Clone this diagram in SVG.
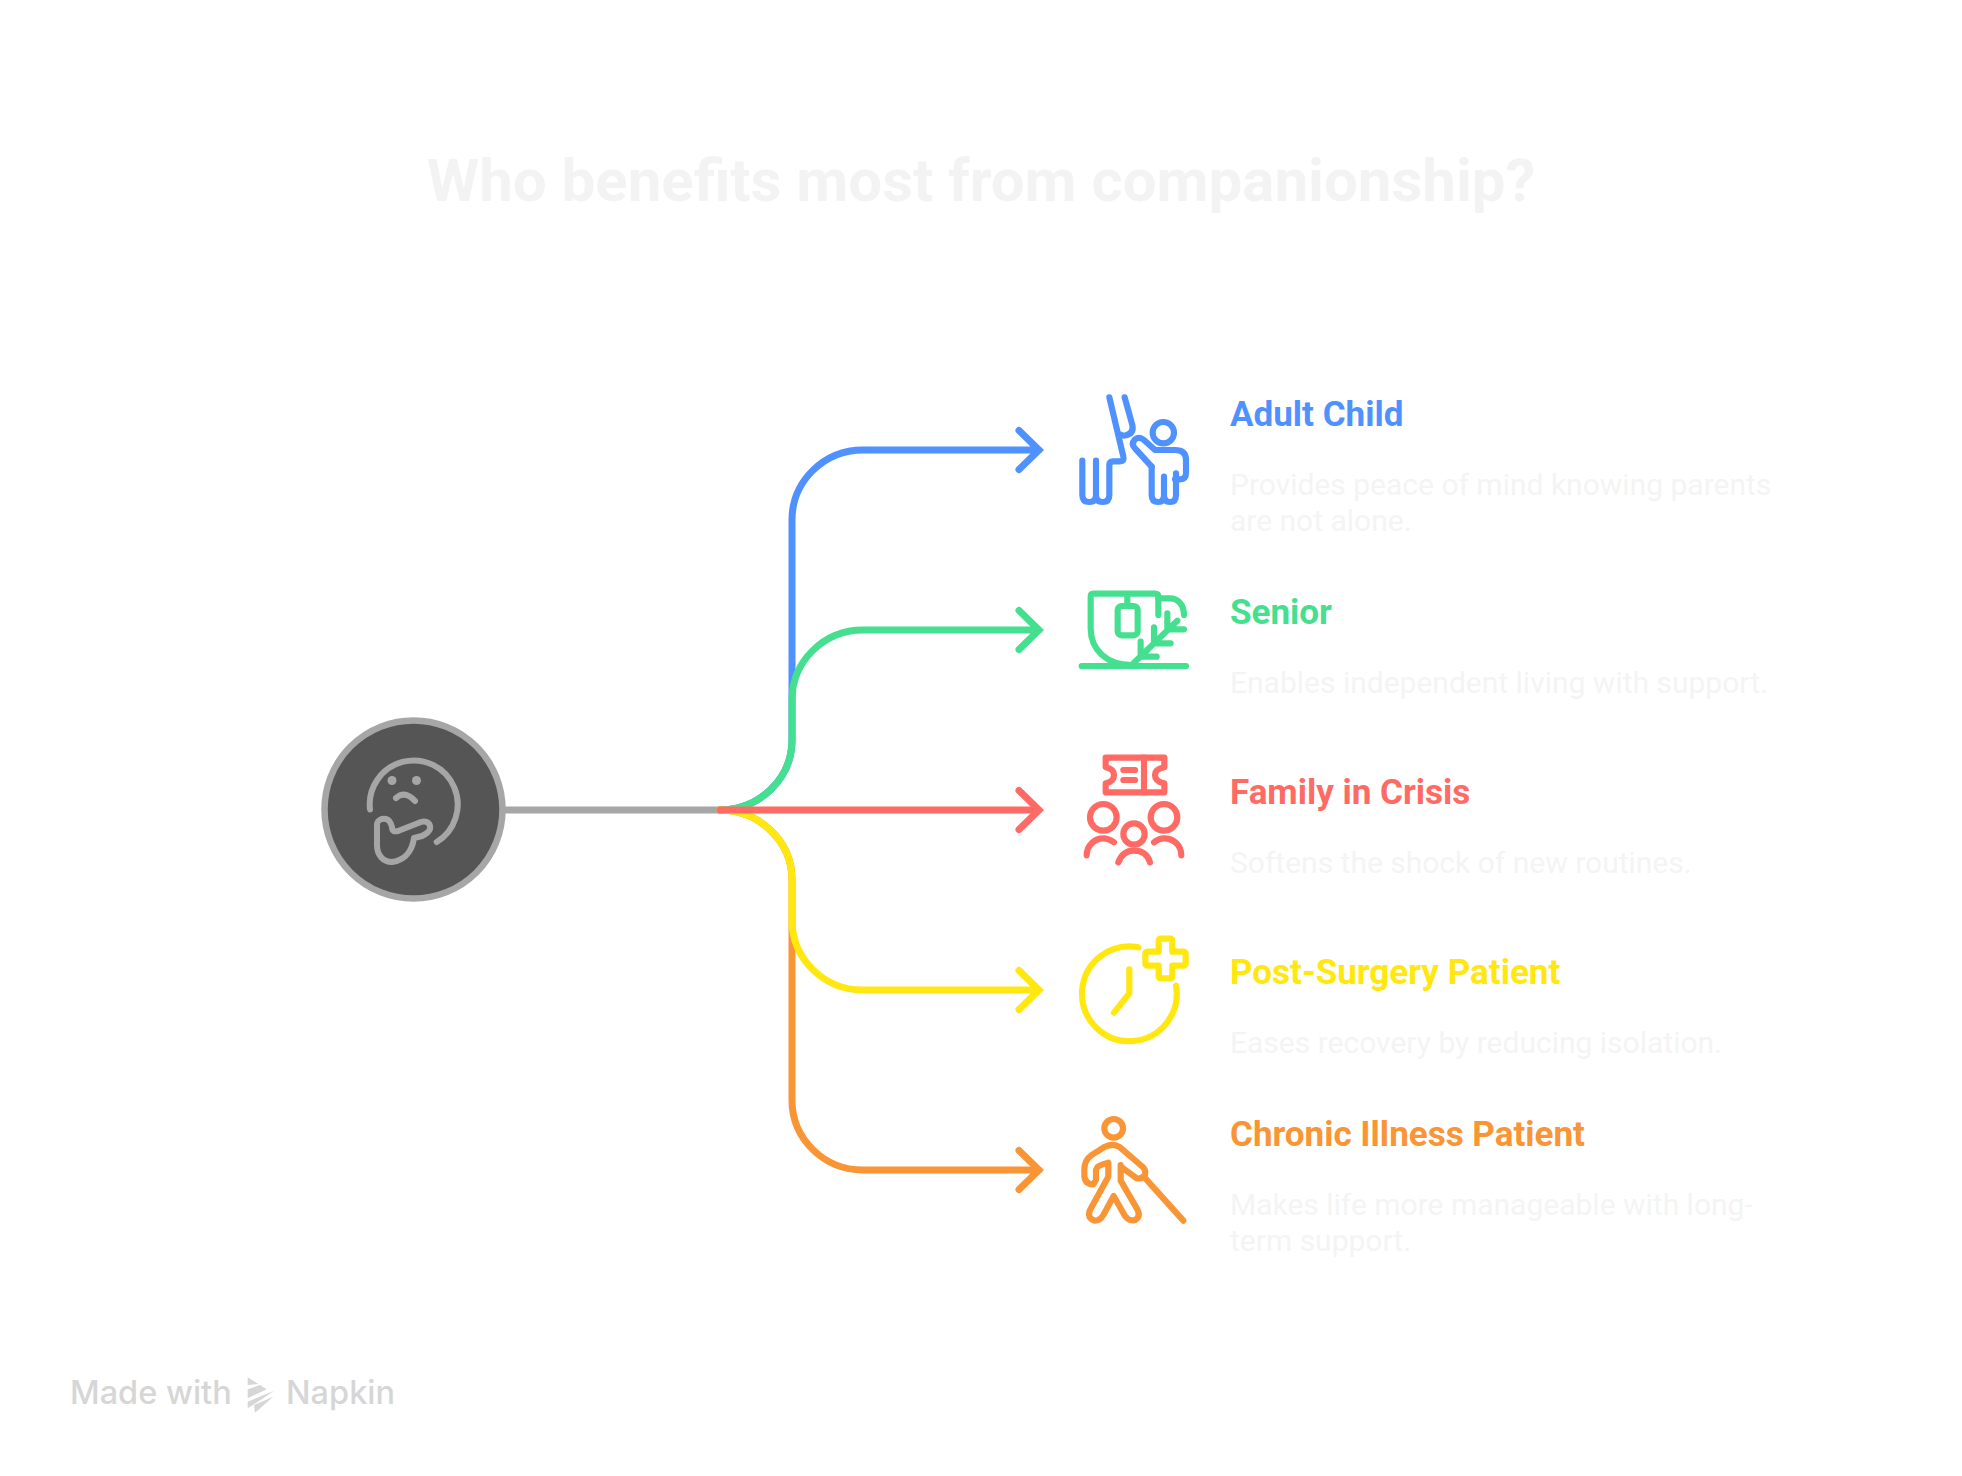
<svg xmlns="http://www.w3.org/2000/svg" width="1962" height="1476" viewBox="0 0 1962 1476">
<style>
text{font-family:Roboto,"Liberation Sans",sans-serif}
.title{font-size:60px;font-weight:700;fill:#f3f3f3;text-anchor:middle}
.h{font-size:35px;font-weight:700}
.d{font-size:30px;font-weight:400;fill:#f4f4f4}
.c,.i{fill:none;stroke-linecap:round}
.i{stroke-linejoin:round;stroke-width:18.500}
.c{stroke-linejoin:miter;stroke-width:7}
.z{transform:scale(.33333)}
.w{font-family:Inter,Roboto,sans-serif;font-size:32.500px;font-weight:500}
.blue{stroke:#4f91ff}.green{stroke:#44e090}.red{stroke:#ff6a64}.yellow{stroke:#ffe70f}.orange{stroke:#f99535}
</style>
<rect width="1962" height="1476" fill="#fff"/>
<text id="title" class="title" x="981" y="201">Who benefits most from companionship?</text>
<g id="connectors" class="c">
<path d="M505 810H720" stroke="#a6a6a6"/>
<path class="blue" d="M720 810C759 810 792 779 792 740V520C792 481 824 450 863 450H1039M1019 430.500L1039 450L1019 469.500"/>
<path class="orange" d="M720 810C759 810 792 841 792 880V1100C792 1139 824 1170 863 1170H1039M1019 1150.500L1039 1170L1019 1189.500"/>
<path class="green" d="M720 810C759 810 792 779 792 740V700C792 661 824 630 863 630H1039M1019 610.500L1039 630L1019 649.500"/>
<path class="yellow" d="M720 810C759 810 792 841 792 880V920C792 959 824 990 863 990H1039M1019 970.500L1039 990L1019 1009.500"/>
<path class="red" d="M720 810H1039M1019 790.500L1039 810L1019 829.500"/>
</g>
<g id="hub">
<circle cx="413.500" cy="809.500" r="89" fill="#555" stroke="#a6a6a6" stroke-width="6.500"/>
<g fill="none" stroke="#a6a6a6" stroke-width="6" stroke-linecap="round" stroke-linejoin="round">
<path d="M370 809.500A44 44 0 1 1 436.700 842"/>
<path d="M396 798Q405 790 415 801"/>
<path d="M377 825C377 820 382 818 386 819C390 820 391 823 392 827C392 831 394 832 398 831L421 822C427 820 431 824 430 829C429 832 426 834 422 836L414 838C413 845 409 860 392 862C383 862 377 855 377 845Z"/>
</g>
<circle cx="392" cy="780.500" r="4.500" fill="#a6a6a6"/><circle cx="416.500" cy="780.500" r="4.500" fill="#a6a6a6"/>
</g>
<g id="adult-child">
<g transform="translate(1040 370)"><g class="i blue z">
<path d="M127 272V375Q127 396 148 396Q168 396 168 375V272M168 375Q168 396 188 396Q208 396 208 375V285Q208 274 220 274H240Q254 274 250 260L208 82"/>
<path d="M254 82L277 165Q282 190 258 196Q248 198 243 194"/>
<circle cx="370" cy="188" r="32"/>
<path d="M335 290L285 235Q272 222 285 208Q298 198 312 210L345 240H405Q438 240 438 270V310Q438 328 420 328H405"/>
<path d="M335 290V375Q335 396 355 396Q372 396 372 375V320M372 375Q372 396 390 396Q408 396 408 375V310"/>
</g></g>
<text class="h" x="1230" y="426" fill="#4f91ff">Adult Child</text>
<text class="d" x="1230" y="495">Provides peace of mind knowing parents</text>
<text class="d" x="1230" y="531">are not alone.</text>
</g>
<g id="senior">
<g transform="translate(1040 370)"><g class="i green z">
<path d="M355 735V680Q355 671 345 671H160Q152 671 152 680V775C152 840 200 885 275 885"/>
<path d="M125 888H438"/>
<path d="M355 685H390C415 685 432 705 432 735"/>
<path d="M262 675V708"/>
<rect x="233" y="708" width="60" height="88" rx="12"/>
<path d="M275 885L412 752M382 730V781M342 772V820M302 815V860M385 778H432M342 820H392M301 860H350"/>
</g></g>
<text class="h" x="1230" y="624" fill="#44e090">Senior</text>
<text class="d" x="1230" y="693">Enables independent living with support.</text>
</g>
<g id="family-in-crisis">
<g transform="translate(1040 730)"><g class="i red z">
<path d="M197 83H373V112Q345 117 345 135Q345 155 373 160V187H197V160Q222 155 222 135Q222 117 197 112Z"/>
<path d="M312 83V187M250 120H285M250 150H285"/>
<circle cx="190" cy="262" r="40"/><circle cx="372" cy="262" r="40"/><circle cx="282" cy="312" r="32"/>
<path d="M140 376C140 345 165 325 190 325C200 325 212 330 222 337M424 376C424 345 400 325 372 325C360 325 350 330 342 337M235 397C245 370 262 362 282 362C302 362 322 370 330 397"/>
</g></g>
<text class="h" x="1230" y="804" fill="#ff6a64">Family in Crisis</text>
<text class="d" x="1230" y="873">Softens the shock of new routines.</text>
</g>
<g id="post-surgery-patient">
<g transform="translate(1040 730)"><g class="i yellow z">
<path d="M295 652A142 142 0 1 0 408 767"/>
<path d="M268 718V790L222 848"/>
<path d="M356 634Q356 626 364 626H389Q397 626 397 634V665H429Q437 665 437 673V699Q437 707 429 707H397V737Q397 745 389 745H364Q356 745 356 737V707H324Q316 707 316 699V673Q316 665 324 665H356Z"/>
</g></g>
<text class="h" x="1230" y="984" fill="#ffe70f">Post-Surgery Patient</text>
<text class="d" x="1230" y="1053">Eases recovery by reducing isolation.</text>
</g>
<g id="chronic-illness-patient">
<g transform="translate(1040 1090)"><g class="i orange z">
<circle cx="221" cy="115" r="28"/>
<path d="M245 232L290 265Q305 268 315 255Q320 240 305 228L240 172Q220 158 195 170L155 195Q133 210 133 240V258Q135 283 160 283L168 270V240Q170 225 205 218V260L150 360Q140 385 165 392Q180 392 190 375L221 318L255 378Q268 395 285 390Q303 380 292 358L242 272V225"/>
<path d="M316 265L430 392"/>
</g></g>
<text class="h" x="1230" y="1146" fill="#f99535">Chronic Illness Patient</text>
<text class="d" x="1230" y="1215">Makes life more manageable with long-</text>
<text class="d" x="1230" y="1251">term support.</text>
</g>
<g id="watermark" fill="#d6d6d6">
<text class="w" x="70" y="1404">Made with</text>
<path d="M247.700 1377.300L258.300 1384L247.700 1385ZM247.700 1389.300L260 1385L266.700 1389.300L247.700 1398.300ZM247.700 1401.700L274 1390.700L263.300 1398.300L247.700 1408.300ZM255 1412.700L273.300 1396.700L254 1405Z"/>
<text class="w" x="286" y="1404">Napkin</text>
</g>
</svg>
